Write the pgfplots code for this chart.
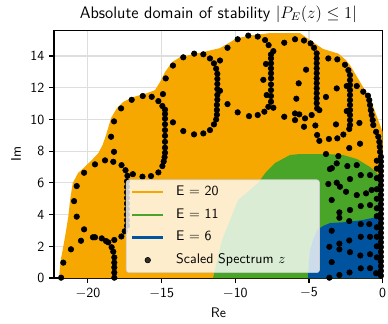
\documentclass[border=0pt]{standalone}
\usepackage{pgfplots}
\pgfplotsset{compat=1.18}
\renewcommand{\familydefault}{\sfdefault}
\definecolor{cOrange}{RGB}{246,168,0}
\definecolor{cGreen}{RGB}{72,165,40}
\definecolor{cBlue}{RGB}{0,84,159}
\begin{document}
\begin{tikzpicture}
\begin{axis}[
  scale only axis, width=236.7pt, height=178.1pt,
  xmin=-22.3, xmax=0, ymin=0, ymax=15.6,
  axis line style={black, line width=0.8pt},
  tick pos=left, tick align=outside,
  major tick length=3.5pt,
  every tick/.style={black, line width=0.8pt},
  xtick={-20,-15,-10,-5,0},
  xticklabels={$-$20,$-$15,$-$10,$-$5,0},
  ytick={0,2,4,6,8,10,12,14},
  yticklabels={0,2,4,6,8,10,12,14},
  grid=major,
  major grid style={black!13, line width=0.8pt},
  xlabel={Re}, ylabel={Im},
  title={\fontsize{12}{14}\selectfont Absolute domain of stability $|P_E(z) \leq 1|$},
  title style={yshift=-3.6pt},
  clip mode=individual,
  legend cell align=left,
  legend style={at={(axis cs:-17.42,0.32)}, anchor=south west,
    fill=white, fill opacity=0.8, text opacity=1, draw=black!20, draw opacity=1,
    rounded corners=2pt, inner xsep=3.6pt, inner ysep=4.5pt,
    row sep=7.3pt, column sep=8.6pt,
    nodes={inner xsep=0pt, inner ysep=0pt, text height=7pt, text depth=2pt},
    font=\fontsize{10}{12}\selectfont},
]
% regions
\addplot[draw=none, fill=cOrange, forget plot] coordinates {
(-21.96,0) (-21.85,1.13) (-21.71,1.77) (-21.51,2.84) (-21.33,3.87) (-21.21,4.92)
(-21.03,5.99) (-20.67,6.62) (-20.20,7.02) (-19.74,7.44) (-19.29,7.88) (-19.0,8.4)
(-18.77,9.02) (-18.43,10.09) (-18.03,10.72) (-17.62,11.10) (-16.94,11.41) (-15.99,11.66)
(-15.45,11.85) (-15.11,12.36) (-14.77,12.99) (-14.29,13.62) (-13.75,13.93) (-12.19,14.25)
(-11.04,14.50) (-9.88,15.13) (-8.80,15.32) (-7.65,15.45) (-5.61,15.45) (-4.93,15.0)
(-4.05,14.45) (-3.0,14.15) (-2.5,13.75) (-2.2,13.4) (-1.34,12.06) (-0.86,11.35)
(-0.52,10.49) (-0.18,9.65) (0,9.2) (0,0)} -- cycle;
\addplot[draw=none, fill=cGreen, forget plot] coordinates {
(-11.51,0) (-11.24,1.13) (-10.90,2.40) (-10.36,3.66) (-9.82,4.92) (-8.46,5.99)
(-7.92,6.68) (-7.31,7.25) (-6.29,7.76) (-5.61,7.82) (-3.78,7.82) (-2.69,7.76)
(-1.74,7.50) (-0.86,7.00) (-0.39,6.62) (0,6.18) (0,0)} -- cycle;
\addplot[draw=none, fill=cBlue, forget plot] coordinates {
(-5.07,0) (-5.0,1.13) (-4.93,1.77) (-4.73,2.40) (-4.45,3.03) (-4.05,3.28)
(-3.57,3.47) (-2.42,3.53) (-1.34,3.66) (-0.39,3.85) (0,3.97) (0,0)} -- cycle;
% legend images for regions
\addlegendimage{legend image code/.code={\draw[cOrange, line width=1.5pt] (0pt,0pt) -- (22.3pt,0pt);}}
\addlegendentry{E $=$ 20}
\addlegendimage{legend image code/.code={\draw[cGreen, line width=1.5pt] (0pt,0pt) -- (22.3pt,0pt);}}
\addlegendentry{E $=$ 11}
\addlegendimage{legend image code/.code={\draw[cBlue, line width=1.5pt] (0pt,0pt) -- (22.3pt,0pt);}}
\addlegendentry{E $=$ 6}
% scaled spectrum
\addplot[only marks, mark=*, mark size=2pt, black,
  legend image code/.code={\fill[black] (11.15pt,0pt) circle (2pt);}] coordinates {
(-21.82,0.02) (-21.67,0.97) (-21.15,1.81) (-20.47,2.35) (-20.26,3.07) (-20.76,3.87)
(-20.94,4.85) (-20.76,5.80) (-20.26,6.64) (-19.52,7.17) (-18.84,7.42) (-18.28,7.33)
(-18.23,7.96) (-18.43,8.91) (-18.23,9.88) (-17.75,10.70) (-17.03,11.24) (-16.28,11.48)
(-15.67,11.43) (-15.22,11.16) (-14.95,10.85) (-14.77,10.62)
(-14.77,10.35) (-14.77,10.05) (-14.77,9.70) (-14.77,9.33) (-14.77,8.97) (-14.77,8.59)
(-14.77,8.22) (-14.77,7.90) (-14.80,7.62) (-14.86,7.35) (-14.95,7.06) (-15.22,6.66)
(-15.72,6.43) (-16.30,6.39) (-16.95,6.55) (-17.32,6.45) (-17.45,6.80) (-17.72,7.12)
(-17.35,6.10) (-17.35,5.75) (-17.35,5.40) (-17.35,5.05) (-17.35,4.70) (-17.35,4.35)
(-17.35,4.00) (-17.35,3.65) (-17.35,3.30) (-17.50,2.95) (-17.73,2.62) (-18.21,2.40)
(-18.39,1.94) (-18.62,2.25) (-18.77,2.33) (-19.06,2.50) (-19.52,2.57) (-19.66,2.57)
(-18.28,1.66) (-18.21,1.30) (-18.21,0.97) (-18.21,0.67) (-18.21,0.34) (-18.21,0.02)
(-14.91,11.60) (-14.72,12.59) (-14.23,13.40) (-13.53,13.92) (-12.79,14.15) (-12.17,14.11)
(-11.72,13.85) (-11.45,13.54) (-11.04,13.72) (-11.30,13.20) (-11.22,12.88) (-11.22,12.56)
(-11.22,12.24) (-11.22,11.92) (-11.04,11.81) (-11.22,11.55) (-11.22,11.25) (-11.25,10.92)
(-11.25,10.60) (-11.25,10.30) (-11.30,10.00) (-11.45,9.69) (-11.72,9.33) (-12.17,9.12)
(-12.80,9.06) (-13.53,9.27) (-14.23,9.82)
(-10.53,14.52) (-9.84,15.06) (-9.12,15.29) (-8.48,15.23) (-7.98,15.01) (-7.74,14.69)
(-7.42,14.31) (-7.58,14.10) (-7.58,13.85) (-7.58,13.54) (-7.58,13.22) (-7.58,12.91)
(-7.58,12.59) (-7.58,12.21) (-7.58,11.85) (-7.58,11.48) (-7.58,11.12) (-7.42,10.74)
(-7.76,10.80) (-8.03,10.49) (-8.48,10.28) (-9.07,10.21) (-9.84,10.45) (-10.53,10.97)
(-7.87,11.54) (-8.10,12.50) (-7.92,13.50)
(-6.68,14.84) (-5.95,15.06) (-5.34,14.98) (-4.89,14.80) (-4.66,14.52) (-4.48,14.17)
(-4.48,13.85) (-4.48,13.54) (-4.48,13.22) (-4.48,12.91) (-4.48,12.59) (-4.48,12.28)
(-4.48,11.96) (-4.48,11.65) (-4.48,11.33) (-4.48,11.02) (-4.45,10.70) (-4.30,10.59)
(-4.82,10.28) (-5.27,10.07) (-5.66,10.32) (-5.95,10.38) (-5.95,9.96) (-6.68,10.17)
(-5.20,13.14) (-5.70,12.28) (-5.86,11.31) (-5.34,9.54)
(-3.69,13.85) (-3.08,13.79) (-2.56,13.45) (-2.33,13.11) (-2.22,12.80) (-2.22,12.48)
(-2.44,12.11) (-2.22,12.17) (-2.22,11.85) (-2.22,11.54) (-2.22,11.22) (-2.22,10.91)
(-2.22,10.59) (-2.44,10.53) (-2.22,10.28) (-2.22,9.96) (-2.22,9.65) (-2.27,9.40)
(-2.67,9.05) (-3.08,8.81) (-3.65,8.77) (-4.30,8.65) (-4.45,9.02) (-4.57,9.62)
(-3.17,9.69) (-3.12,11.96) (-3.85,11.42)
(-1.76,12.11) (-1.32,11.75) (-1.00,11.50) (-0.91,11.22) (-0.86,10.91) (-0.81,10.59)
(-0.75,10.28) (-0.68,9.96) (-0.64,9.65) (-0.45,9.22) (-0.30,8.91) (-0.23,8.59)
(-0.20,8.28) (-0.18,7.96) (-1.54,8.47) (-2.27,8.20) (-1.58,9.78)
(-0.12,7.65) (-0.12,7.35) (-0.12,7.05) (-0.12,6.75) (-0.12,6.45) (-0.12,6.15)
(-0.12,5.85) (-0.12,5.55) (-0.12,5.25) (-0.12,4.95) (-0.12,4.65) (-0.12,4.35)
(-0.12,4.05) (-0.12,3.75) (-0.12,3.45) (-0.12,3.15) (-0.12,2.85) (-0.12,2.55)
(-0.12,2.25) (-0.12,1.95) (-0.12,1.65) (-0.12,1.35) (-0.12,1.05) (-0.12,0.75)
(-0.12,0.45) (-0.12,0.15)
(-0.40,7.40) (-0.40,6.90) (-0.40,6.30) (-0.40,5.60) (-0.40,5.00) (-0.40,4.40)
(-0.40,3.90) (-0.40,3.20) (-0.40,2.60) (-0.40,2.00) (-0.40,1.30) (-0.45,0.30)
(-3.85,7.82) (-3.01,7.69) (-3.58,6.87) (-3.45,6.93) (-3.12,7.23) (-2.40,7.06)
(-1.76,7.12) (-1.49,6.49) (-0.86,6.49) (-2.22,6.24) (-3.69,5.93) (-3.12,6.01)
(-2.90,5.76) (-2.49,5.44) (-1.76,5.23) (-1.13,5.34) (-0.75,5.55) (-3.46,4.92)
(-1.49,4.54) (-0.86,4.60) (-2.22,4.29) (-2.94,4.14) (-2.94,3.80) (-2.27,3.59)
(-1.49,3.40) (-0.91,3.40) (-3.46,2.98) (-1.49,2.60) (-0.86,2.60) (-2.27,2.37)
(-2.94,2.17) (-2.94,1.81) (-3.62,1.97) (-2.22,1.63) (-1.52,1.42) (-0.86,1.50)
(-3.46,1.00) (-1.49,0.61) (-0.86,0.62) (-2.25,0.35) (-2.94,0.19) (-3.62,0.02)
};
\addlegendentry{Scaled Spectrum $z$\hspace*{21pt}}
\end{axis}
\pgfresetboundingbox
\path ([xshift=-38.9pt,yshift=-32.4pt]current axis.south west) rectangle ([xshift=3.8pt,yshift=22.1pt]current axis.north east);
\end{tikzpicture}
\end{document}
